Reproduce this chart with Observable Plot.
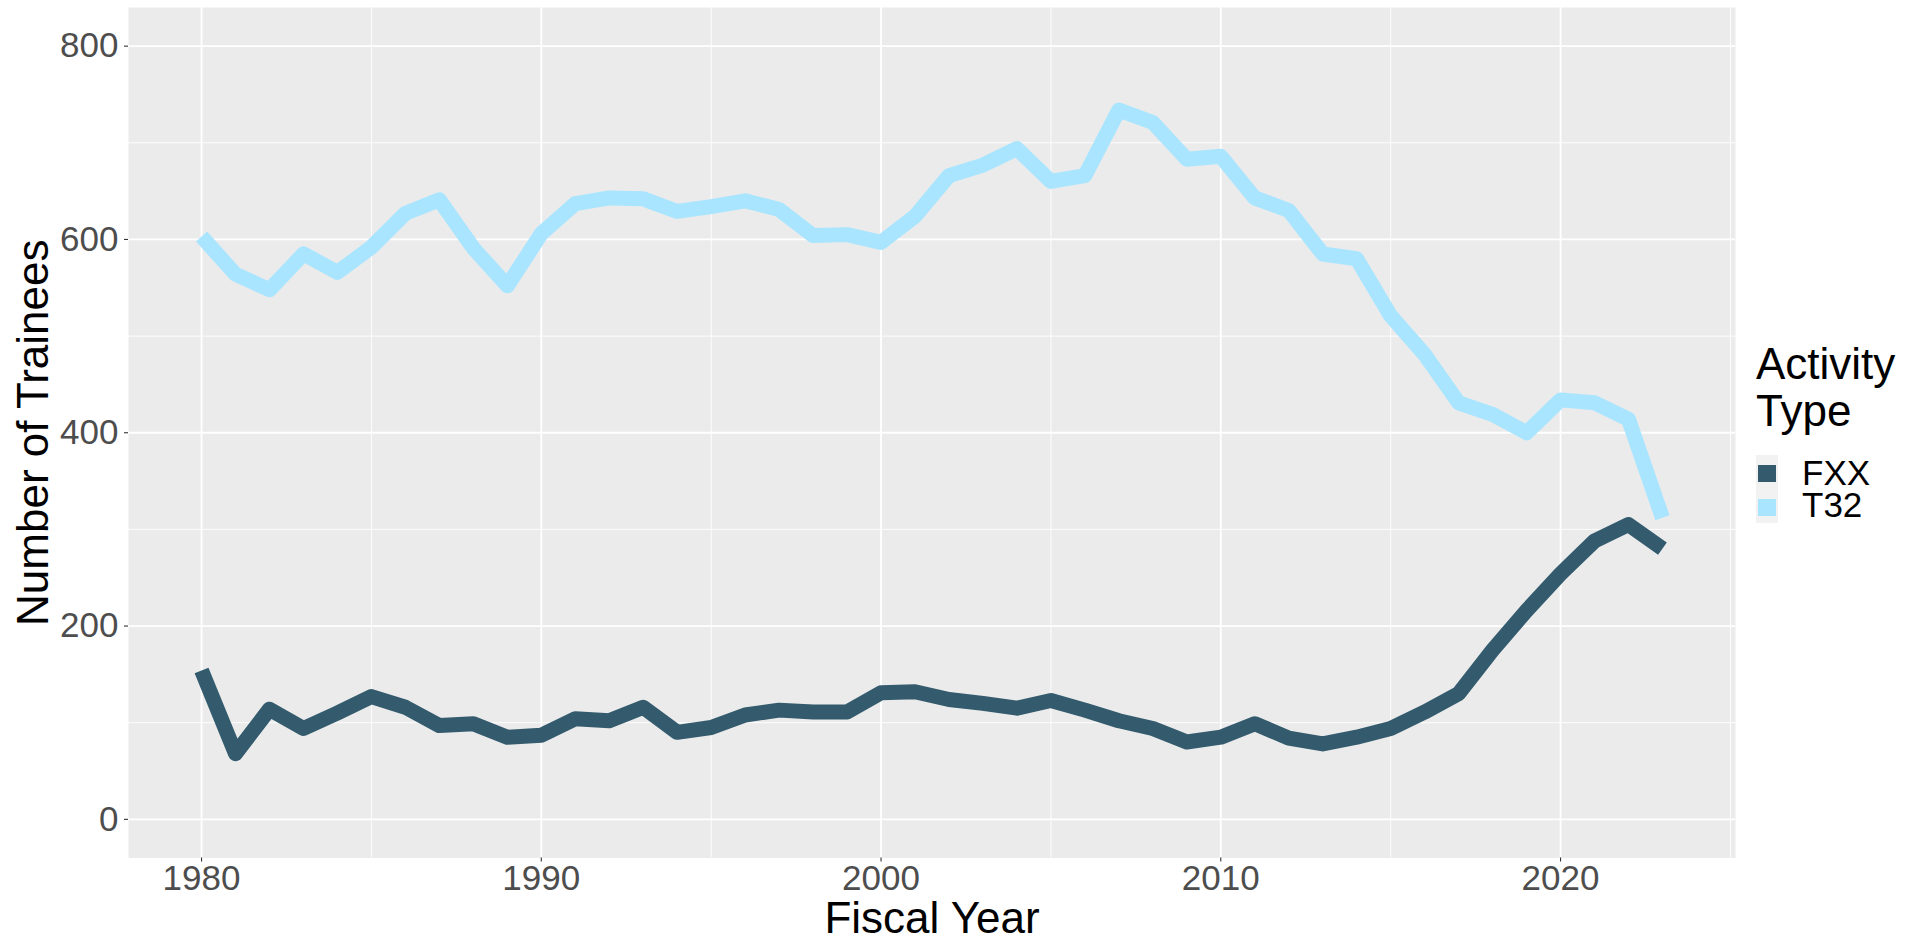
<!DOCTYPE html>
<html>
<head>
<meta charset="utf-8">
<script src="https://cdn.jsdelivr.net/npm/d3@7"></script>
<script src="https://cdn.jsdelivr.net/npm/@observablehq/plot@0.6"></script>
<style>
  html, body { margin: 0; padding: 0; background: #fff; }
  #wrap { position: relative; width: 1911px; height: 941px; font-family: "Liberation Sans", Arial, sans-serif; }
  #legend { position: absolute; left: 1756px; top: 340px; color: #000; }
  .ltitle { font-size: 44px; line-height: 47px; }
  .lkeys { position: absolute; left: 0px; top: 115px; width: 22px; height: 68px; background: #F2F2F2; }
  .swatch { position: absolute; left: 2px; width: 18px; height: 17px; }
  .llabel { position: absolute; left: 46px; font-size: 35px; line-height: 32px; white-space: nowrap; }
</style>
</head>
<body>
<div id="wrap"></div>
<script>
const years = [1980,1981,1982,1983,1984,1985,1986,1987,1988,1989,
               1990,1991,1992,1993,1994,1995,1996,1997,1998,1999,
               2000,2001,2002,2003,2004,2005,2006,2007,2008,2009,
               2010,2011,2012,2013,2014,2015,2016,2017,2018,2019,
               2020,2021,2022,2023];
const fxx = [154, 68, 114, 94, 110, 127, 116, 97, 99, 85,
             87, 104, 102, 116, 90, 95, 108, 113, 111, 111,
             131, 132, 124, 120, 115, 123, 113, 102, 94, 80,
             85, 99, 84, 78, 85, 94, 111, 130, 175, 216,
             254, 288, 305, 280];
const t32 = [603, 564, 548, 585, 566, 592, 627, 641, 591, 552,
             606, 637, 643, 642, 629, 634, 640, 631, 604, 605,
             597, 624, 666, 677, 694, 660, 666, 734, 721, 683,
             686, 643, 630, 585, 580, 521, 481, 431, 419, 400,
             434, 431, 414, 312];
const seriesNames = ["FXX", "T32"];
const seriesColors = ["#335B6D", "#A9E5FF"];
const xTicks = [1980, 1990, 2000, 2010, 2020];
const xMinor = [1985, 1995, 2005, 2015, 2025];
const yTicks = [0, 200, 400, 600, 800];
const yMinor = [100, 300, 500, 700];
const xTitle = "Fiscal Year";
const yTitle = "Number of Trainees";
const legendTitle = ["Activity", "Type"];

const data = [];
years.forEach((y, i) => data.push({year: y, value: fxx[i], type: "FXX"}));
years.forEach((y, i) => data.push({year: y, value: t32[i], type: "T32"}));

const chart = Plot.plot({
  width: 1911,
  height: 941,
  marginLeft: 128,
  marginRight: 176,
  marginTop: 7,
  marginBottom: 83.5,
  style: {fontFamily: '"Liberation Sans", Arial, sans-serif', background: "#fff"},
  x: {domain: [1977.85, 2025.15]},
  y: {domain: [-40, 840]},
  color: {domain: seriesNames, range: seriesColors},
  marks: [
    Plot.frame({fill: "#EBEBEB", stroke: null}),
    Plot.ruleX(xMinor, {stroke: "#fff", strokeWidth: 0.9}),
    Plot.ruleY(yMinor, {stroke: "#fff", strokeWidth: 0.9}),
    Plot.ruleX(xTicks, {stroke: "#fff", strokeWidth: 1.8}),
    Plot.ruleY(yTicks, {stroke: "#fff", strokeWidth: 1.8}),
    Plot.line(data, {x: "year", y: "value", z: "type", stroke: "type", strokeWidth: 15,
                     strokeLinejoin: "round", strokeLinecap: "butt"}),
    Plot.axisX({ticks: xTicks, tickSize: 4, tickPadding: 3.5, fontSize: 35, tickFormat: d => String(d),
                label: null, stroke: "#333333", fill: "#4D4D4D", strokeWidth: 1.1}),
    Plot.axisY({ticks: yTicks, tickSize: 4, tickPadding: 6, fontSize: 35, tickFormat: d => String(d),
                label: null, stroke: "#333333", fill: "#4D4D4D", strokeWidth: 1.1}),
    Plot.text([xTitle], {frameAnchor: "bottom", text: d => d, dy: 60.5, fontSize: 44,
                         lineAnchor: "middle", textAnchor: "middle", fill: "#000"}),
    Plot.text([yTitle], {frameAnchor: "left", text: d => d, dx: -94.5, rotate: -90, fontSize: 44,
                         lineAnchor: "middle", textAnchor: "middle", fill: "#000"})
  ]
});

const wrap = document.getElementById("wrap");
wrap.appendChild(chart);

const legend = document.createElement("div");
legend.id = "legend";
const t = document.createElement("div");
t.className = "ltitle";
t.innerHTML = legendTitle.join("<br>");
legend.appendChild(t);
const keys = document.createElement("div");
keys.className = "lkeys";
legend.appendChild(keys);
seriesNames.forEach((name, i) => {
  const sw = document.createElement("div");
  sw.className = "swatch";
  sw.style.top = (10 + i * 34) + "px";
  sw.style.background = seriesColors[i];
  keys.appendChild(sw);
  const lab = document.createElement("div");
  lab.className = "llabel";
  lab.style.top = (2 + i * 32) + "px";
  lab.textContent = name;
  keys.appendChild(lab);
});
wrap.appendChild(legend);
</script>
</body>
</html>
